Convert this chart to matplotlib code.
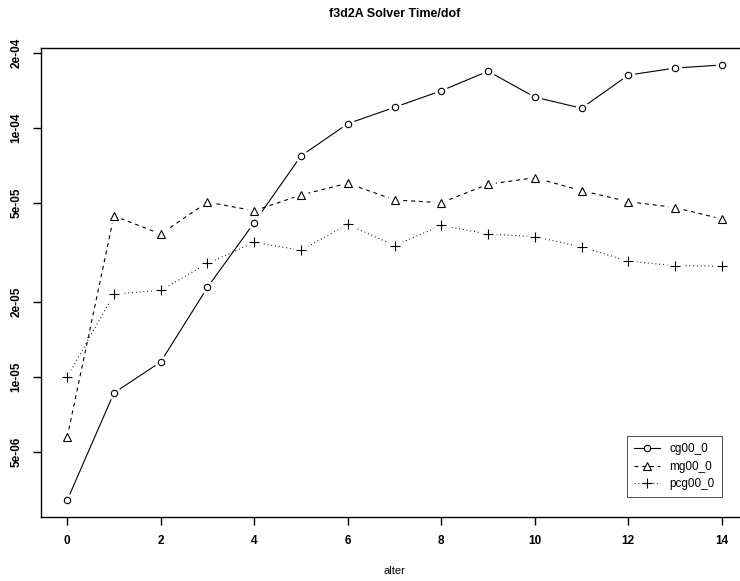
import matplotlib
matplotlib.use("Agg")
import matplotlib.pyplot as plt
from matplotlib.ticker import FixedLocator, FixedFormatter, NullLocator

plt.rcParams['font.family'] = ['Liberation Sans', 'DejaVu Sans']

alter = list(range(15))
cg00_0 = [3.2e-6, 8.63e-6, 1.15e-5, 2.29e-5, 4.17e-5, 7.72e-5, 1.04e-4, 1.21e-4,
          1.41e-4, 1.69e-4, 1.33e-4, 1.20e-4, 1.63e-4, 1.74e-4, 1.79e-4]
mg00_0 = [5.74e-6, 4.44e-5, 3.75e-5, 5.04e-5, 4.65e-5, 5.38e-5, 6.0e-5, 5.14e-5,
          5.01e-5, 5.94e-5, 6.31e-5, 5.60e-5, 5.06e-5, 4.79e-5, 4.31e-5]
pcg00_0 = [1.0e-5, 2.15e-5, 2.23e-5, 2.86e-5, 3.47e-5, 3.23e-5, 4.10e-5, 3.37e-5,
           4.06e-5, 3.75e-5, 3.66e-5, 3.33e-5, 2.92e-5, 2.80e-5, 2.79e-5]
series_names = ["cg00_0", "mg00_0", "pcg00_0"]
xticks = [0, 2, 4, 6, 8, 10, 12, 14]
yticks = [5e-6, 1e-5, 2e-5, 5e-5, 1e-4, 2e-4]
ytick_labels = ["5e-06", "1e-05", "2e-05", "5e-05", "1e-04", "2e-04"]
title = "f3d2A Solver Time/dof"
xlabel = "alter"

W, H = 740, 581
fig = plt.figure(figsize=(W / 100, H / 100), dpi=100)
left, right, top, bottom = 41, 748, 48, 517
ax = fig.add_axes([left / W, 1 - bottom / H, (right - left) / W, (bottom - top) / H])
ax.set_yscale('log')
ax.set_xlim(-0.56, 14.56)
ax.set_ylim(10 ** -5.562, 10 ** -3.679)

styles = [
    dict(ls='-', marker='o', ms=4.6),
    dict(ls=(0, (3.5, 3.5)), marker='^', ms=5.6),
    dict(ls=(0, (0.8, 2.6)), marker='+', ms=6.8),
]
handles = []
for ys, st, name in zip([cg00_0, mg00_0, pcg00_0], styles, series_names):
    ax.plot(alter, ys, color='black', lw=0.8, ls=st['ls'], zorder=2)
    # white halo to create R type="b" gaps
    ax.plot(alter, ys, ls='none', marker='o', ms=st['ms'] + 5, mfc='white',
            mec='none', zorder=3)
    ax.plot(alter, ys, ls='none', marker=st['marker'], ms=st['ms'], mfc='white',
            mec='black', mew=0.8, color='black', zorder=4)
    h, = ax.plot([], [], color='black', lw=0.8, ls=st['ls'], marker=st['marker'],
                 ms=st['ms'], mfc='white', mec='black', mew=0.8)
    handles.append(h)

ax.xaxis.set_major_locator(FixedLocator(xticks))
ax.set_xticklabels([str(v) for v in xticks])
ax.yaxis.set_major_locator(FixedLocator(yticks))
ax.yaxis.set_major_formatter(FixedFormatter(ytick_labels))
ax.yaxis.set_minor_locator(NullLocator())
ax.tick_params(axis='both', which='major', direction='out', length=5.8, width=1.0,
               labelsize=8.5, pad=7.5)
for lab in ax.get_xticklabels() + ax.get_yticklabels():
    lab.set_fontweight('bold')
for lab in ax.get_yticklabels():
    lab.set_rotation(90)
    lab.set_va('center')
for sp in ax.spines.values():
    sp.set_linewidth(1.0)

leg = ax.legend(handles, series_names, loc='lower right',
                bbox_to_anchor=(14, 10 ** -5.482), bbox_transform=ax.transData,
                frameon=True, fancybox=False, edgecolor='black', fontsize=8.5,
                handlelength=2.2, handletextpad=0.8, borderpad=0.6, labelspacing=0.45,
                borderaxespad=0)
leg.get_frame().set_linewidth(0.6)

cx = (left + right) / 2 / W
fig.text(cx, 1 - 14 / H, title, ha='center', va='center', fontsize=9, fontweight='bold')
fig.text(cx, 1 - 571 / H, xlabel, ha='center', va='center', fontsize=8)

fig.savefig('out.png', dpi=100)
